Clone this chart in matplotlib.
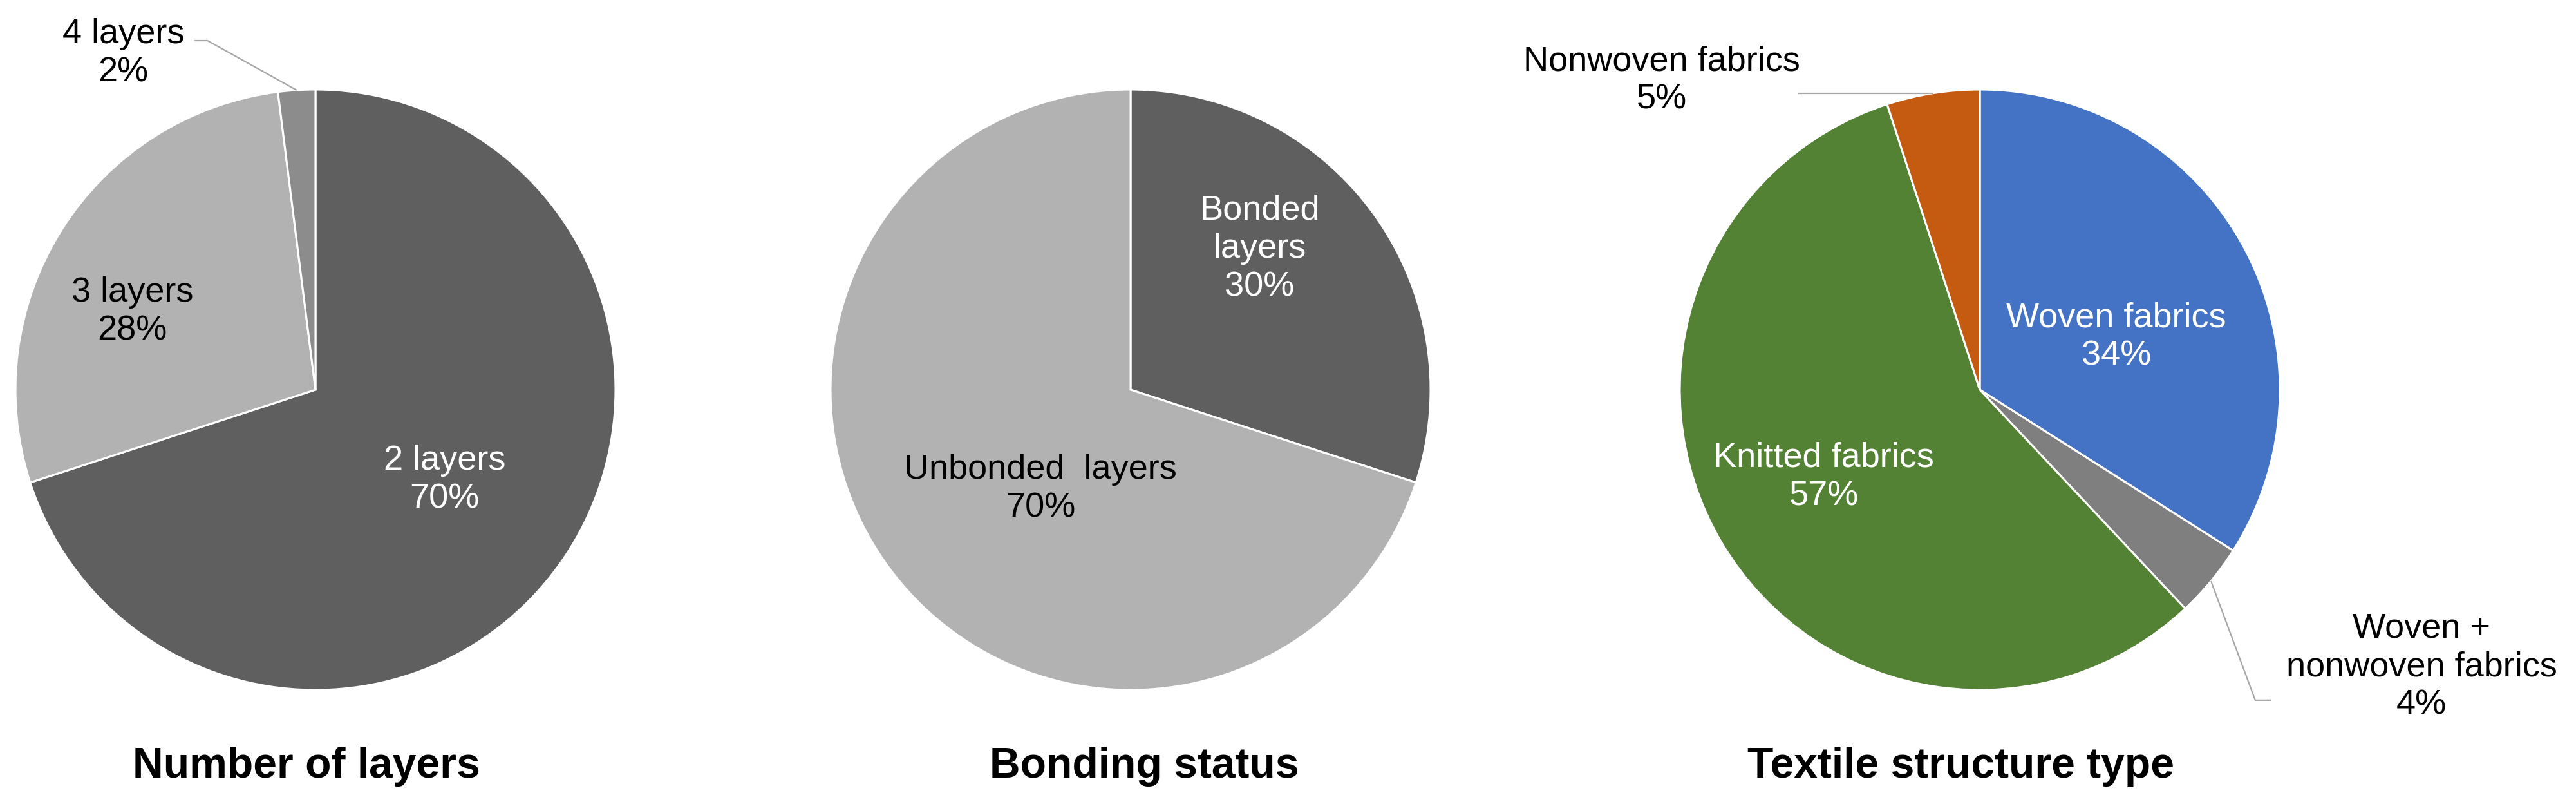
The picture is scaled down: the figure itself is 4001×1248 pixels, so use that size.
import numpy as np
import matplotlib.pyplot as plt

plt.rcParams['font.family'] = ['Liberation Sans', 'DejaVu Sans']

# data
layers_names = ["2 layers", "3 layers", "4 layers"]
layers_vals = [70, 28, 2]
bond_names = ["Bonded\nlayers", "Unbonded  layers"]
bond_vals = [30, 70]
textile_names = ["Woven fabrics", "Woven +\nnonwoven fabrics", "Knitted fabrics", "Nonwoven fabrics"]
textile_vals = [34, 4, 57, 5]
titles = ["Number of layers", "Bonding status", "Textile structure type"]

W, H = 4001, 1248
R = 466
fig = plt.figure(figsize=(W / 100, H / 100), dpi=100)


def pie_axes(cx, cy):
    ax = fig.add_axes([(cx - R) / W, (H - cy - R) / H, 2 * R / W, 2 * R / H])
    ax.axis('off')
    return ax


def draw(ax, vals, colors):
    wedges, _ = ax.pie(vals, colors=colors, startangle=90, counterclock=False, radius=1,
                       wedgeprops=dict(edgecolor='white', linewidth=2.2))
    # pie() resets the limits, so set them afterwards
    ax.set_xlim(-1, 1)
    ax.set_ylim(-1, 1)
    ax.set_aspect('equal')
    return wedges


def edge_point(w):
    a = np.deg2rad((w.theta1 + w.theta2) / 2)
    return np.cos(a), np.sin(a)


def label(ax, x, y, s, color):
    ax.text(x, y, s, ha='center', va='center', fontsize=39, color=color,
            linespacing=1.25, clip_on=False)


lead = dict(color='#A6A6A6', lw=1.6, clip_on=False, solid_capstyle='butt')

# pie 1
ax1 = pie_axes(490, 605)
w1 = draw(ax1, layers_vals, ['#5F5F5F', '#B2B2B2', '#8C8C8C'])
label(ax1, 0.43, -0.30, f"{layers_names[0]}\n{layers_vals[0]}%", 'white')
label(ax1, -0.61, 0.26, f"{layers_names[1]}\n{layers_vals[1]}%", 'black')
label(ax1, -0.64, 1.12, f"{layers_names[2]}\n{layers_vals[2]}%", 'black')
ex, ey = edge_point(w1[2])
ax1.plot([ex, -0.36, -0.403], [ey, 1.163, 1.163], **lead)

# pie 2
ax2 = pie_axes(1756, 605)
w2 = draw(ax2, bond_vals, ['#5F5F5F', '#B2B2B2'])
label(ax2, 0.43, 0.47, f"{bond_names[0]}\n{bond_vals[0]}%", 'white')
label(ax2, -0.30, -0.33, f"{bond_names[1]}\n{bond_vals[1]}%", 'black')

# pie 3
ax3 = pie_axes(3075, 605)
w3 = draw(ax3, textile_vals, ['#4472C4', '#7F7F7F', '#548235', '#C55A11'])
label(ax3, 0.455, 0.176, f"{textile_names[0]}\n{textile_vals[0]}%", 'white')
label(ax3, 1.472, -0.923, f"{textile_names[1]}\n{textile_vals[1]}%", 'black')
label(ax3, -0.52, -0.29, f"{textile_names[2]}\n{textile_vals[2]}%", 'white')
label(ax3, -1.06, 1.03, f"{textile_names[3]}\n{textile_vals[3]}%", 'black')
ex, ey = edge_point(w3[3])
ax3.plot([ex, -0.605], [ey, ey], **lead)
ex, ey = edge_point(w3[1])
ax3.plot([ex, 0.918, 0.97], [ey, -1.034, -1.034], **lead)

# titles
for x, t in zip([476, 1777, 3045], titles):
    fig.text(x / W, 1 - 1207 / H, t, ha='center', va='baseline', fontsize=47.5,
             fontweight='bold')

fig.savefig('out.png', dpi=100, facecolor='white')
